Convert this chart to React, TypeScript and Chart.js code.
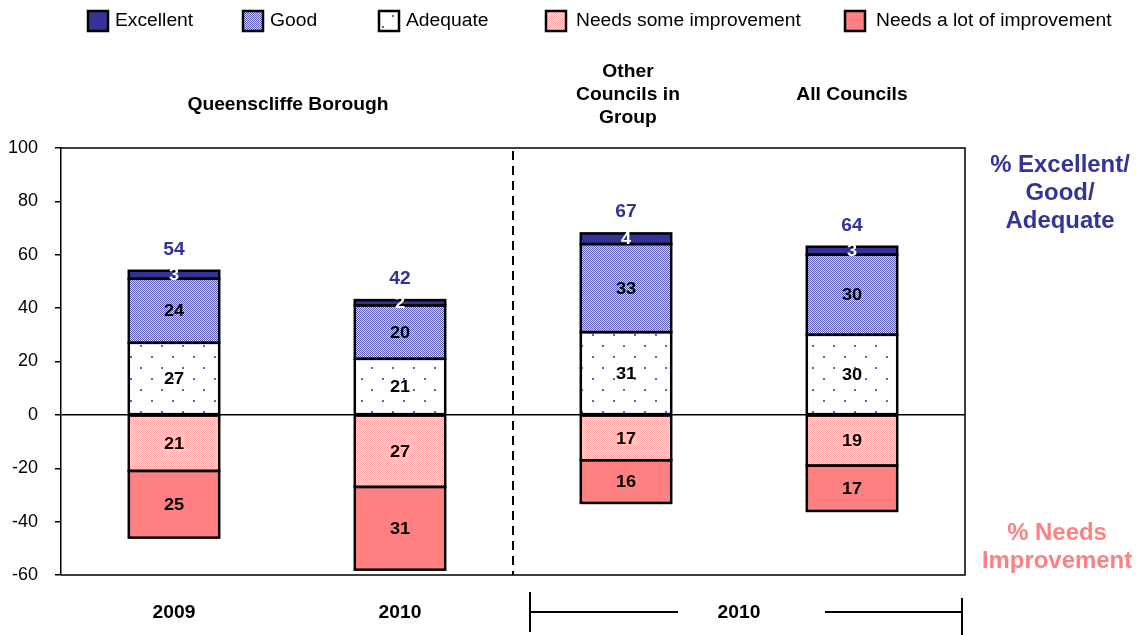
import React, { useEffect, useRef } from "react";
import { Chart, registerables } from "chart.js";

Chart.register(...registerables);

const categories = ["Q2009", "Q2010", "Other", "All"];
const xLabels = ["2009", "2010"];
const bracketLabel = "2010";
const excellent = [3, 2, 4, 3];
const good = [24, 20, 33, 30];
const adequate = [27, 21, 31, 30];
const needsSome = [-21, -27, -17, -19];
const needsLot = [-25, -31, -16, -17];
const totals = [54, 42, 67, 64];
const legendLabels = ["Excellent", "Good", "Adequate", "Needs some improvement", "Needs a lot of improvement"];
const yTicks = [100, 80, 60, 40, 20, 0, -20, -40, -60];

const FONT = "'Liberation Sans', Arial, sans-serif";
const BLUE = "#333399";
const PINK = "#ff8080";
const SX = 1.07;

function makePattern(kind: string): CanvasPattern | string {
  const c = document.createElement("canvas");
  const g = c.getContext("2d")!;
  if (kind === "good") {
    c.width = 2; c.height = 2;
    g.fillStyle = "#d4d4f2"; g.fillRect(0, 0, 2, 2);
    g.fillStyle = "#5e5eba"; g.fillRect(0, 0, 1, 1); g.fillRect(1, 1, 1, 1);
  } else if (kind === "some") {
    c.width = 2; c.height = 2;
    g.fillStyle = "#ffeaea"; g.fillRect(0, 0, 2, 2);
    g.fillStyle = "#ffa6a6"; g.fillRect(0, 0, 1, 1); g.fillRect(1, 1, 1, 1);
  } else {
    c.width = 21; c.height = 22;
    g.fillStyle = "#ffffff"; g.fillRect(0, 0, 21, 22);
    g.fillStyle = "#6262c0";
    g.fillRect(4, 4, 2, 2);
    g.fillRect(14, 15, 2, 2);
  }
  return g.createPattern(c, "repeat")!;
}

function txt(ctx: CanvasRenderingContext2D, s: string, x: number, y: number, sx = SX) {
  ctx.save();
  ctx.translate(x, y);
  ctx.scale(sx, 1);
  ctx.fillText(s, 0, 0);
  ctx.restore();
}

export default function App() {
  const ref = useRef<HTMLCanvasElement>(null);
  useEffect(() => {
    const goodP = makePattern("good");
    const someP = makePattern("some");
    const adeqP = makePattern("adequate");
    const legendFills = [BLUE, goodP, adeqP, someP, PINK];
    const legendBoxX = [88, 243, 379, 546, 845];
    const legendTextX = [115, 270, 406, 576, 876];

    const overlay = {
      id: "overlay",
      afterDatasetsDraw(chart: any) {
        const ctx = chart.ctx;
        const { left, right, top, bottom } = chart.chartArea;
        const x = chart.scales.x;
        ctx.save();
        // frame
        ctx.strokeStyle = "#000";
        ctx.lineWidth = 1.5;
        ctx.beginPath();
        ctx.moveTo(left, top);
        ctx.lineTo(right, top);
        ctx.lineTo(right, bottom);
        ctx.lineTo(left, bottom);
        ctx.stroke();
        // dashed separator
        const xd = (x.getPixelForValue(1) + x.getPixelForValue(2)) / 2;
        ctx.setLineDash([9, 6]);
        ctx.lineWidth = 2;
        ctx.beginPath();
        ctx.moveTo(xd, top + 3);
        ctx.lineTo(xd, bottom);
        ctx.stroke();
        ctx.setLineDash([]);

        // bar outlines
        ctx.lineWidth = 2.5;
        ctx.strokeStyle = "#000";
        chart.data.datasets.forEach((ds: any, di: number) => {
          chart.getDatasetMeta(di).data.forEach((el: any) => {
            const l = el.x - el.width / 2;
            const t = Math.min(el.y, el.base);
            const b = Math.max(el.y, el.base);
            ctx.strokeRect(l, t, el.width, b - t);
          });
        });

        // segment labels
        ctx.textAlign = "center";
        ctx.textBaseline = "middle";
        ctx.font = `bold 17px ${FONT}`;
        chart.data.datasets.forEach((ds: any, di: number) => {
          const meta = chart.getDatasetMeta(di);
          meta.data.forEach((el: any, i: number) => {
            const v = ds.data[i];
            ctx.fillStyle = ds.label === "Excellent" ? "#ffffff" : "#000000";
            txt(ctx, String(Math.abs(v)), el.x, (el.y + el.base) / 2 + 1);
          });
        });
        // totals
        const exIdx = chart.data.datasets.findIndex((d: any) => d.label === "Excellent");
        const exMeta = chart.getDatasetMeta(exIdx);
        ctx.font = `bold 18px ${FONT}`;
        ctx.fillStyle = BLUE;
        exMeta.data.forEach((el: any, i: number) => {
          txt(ctx, String(totals[i]), el.x, el.y - 21);
        });

        // group titles
        ctx.fillStyle = "#000";
        ctx.font = `bold 18px ${FONT}`;
        const qx = (x.getPixelForValue(0) + x.getPixelForValue(1)) / 2;
        txt(ctx, "Queenscliffe Borough", qx + 1, 105);
        const ox = x.getPixelForValue(2) + 2;
        txt(ctx, "Other", ox, 72);
        txt(ctx, "Councils in", ox, 95);
        txt(ctx, "Group", ox, 118);
        txt(ctx, "All Councils", x.getPixelForValue(3), 95);

        // x labels
        xLabels.forEach((t, i) => txt(ctx, t, x.getPixelForValue(i), 613));
        const bx = (x.getPixelForValue(2) + x.getPixelForValue(3)) / 2;
        txt(ctx, bracketLabel, bx, 613);
        const bl = xd + 17;
        const br = right - 3;
        ctx.lineWidth = 2;
        ctx.beginPath();
        ctx.moveTo(bl, 592); ctx.lineTo(bl, 632);
        ctx.moveTo(bl, 612); ctx.lineTo(bx - 61, 612);
        ctx.moveTo(bx + 86, 612); ctx.lineTo(br, 612);
        ctx.moveTo(br, 598); ctx.lineTo(br, 635);
        ctx.stroke();

        // right annotations
        ctx.font = `bold 23px ${FONT}`;
        ctx.fillStyle = BLUE;
        txt(ctx, "% Excellent/", 1060, 166, 1.04);
        txt(ctx, "Good/", 1060, 194, 1.04);
        txt(ctx, "Adequate", 1060, 222, 1.04);
        ctx.fillStyle = PINK;
        txt(ctx, "% Needs", 1057, 534, 1.04);
        txt(ctx, "Improvement", 1057, 562, 1.04);

        // legend
        ctx.textAlign = "left";
        ctx.font = `18px ${FONT}`;
        legendLabels.forEach((lab, i) => {
          const bxl = legendBoxX[i];
          ctx.fillStyle = legendFills[i] as any;
          ctx.fillRect(bxl, 11, 20, 20);
          ctx.strokeStyle = "#000";
          ctx.lineWidth = 2.5;
          ctx.strokeRect(bxl, 11, 20, 20);
          ctx.fillStyle = "#000";
          txt(ctx, lab, legendTextX[i], 21);
        });
        ctx.restore();
      },
    };

    const common = {
      borderWidth: 0,
      barPercentage: 0.4,
      categoryPercentage: 1.0,
      stack: "s",
    };

    const chart = new Chart(ref.current!, {
      type: "bar",
      data: {
        labels: categories,
        datasets: [
          { label: "Adequate", data: adequate, backgroundColor: adeqP, ...common },
          { label: "Good", data: good, backgroundColor: goodP, ...common },
          { label: "Excellent", data: excellent, backgroundColor: BLUE, ...common },
          { label: "Needs some improvement", data: needsSome, backgroundColor: someP, ...common },
          { label: "Needs a lot of improvement", data: needsLot, backgroundColor: PINK, ...common },
        ] as any,
      },
      options: {
        responsive: false,
        animation: false,
        layout: { padding: { top: 148, right: 176, bottom: 60, left: 0 } },
        plugins: { legend: { display: false }, tooltip: { enabled: false }, title: { display: false } },
        scales: {
          x: { display: false, stacked: true },
          y: {
            stacked: true,
            min: -60,
            max: 100,
            afterFit: (s: any) => { s.width = 61; },
            afterBuildTicks: (s: any) => { s.ticks = yTicks.map((v) => ({ value: v })); },
            border: { display: true, color: "#000", width: 1.5 },
            grid: {
              color: (c: any) => (c.tick && c.tick.value === 0 ? "#000" : "rgba(0,0,0,0)"),
              tickColor: "#000",
              tickLength: 6,
              lineWidth: 1.5,
              drawOnChartArea: true,
            },
            ticks: {
              color: "#000",
              font: { family: FONT, size: 18 },
              padding: 17,
            },
          },
        },
      },
      plugins: [overlay],
    });
    return () => chart.destroy();
  }, []);

  return (
    <div style={{ position: "fixed", left: 0, top: 0, width: 1141, height: 635, background: "#fff" }}>
      <canvas ref={ref} width={1141} height={635} style={{ display: "block" }} />
    </div>
  );
}
